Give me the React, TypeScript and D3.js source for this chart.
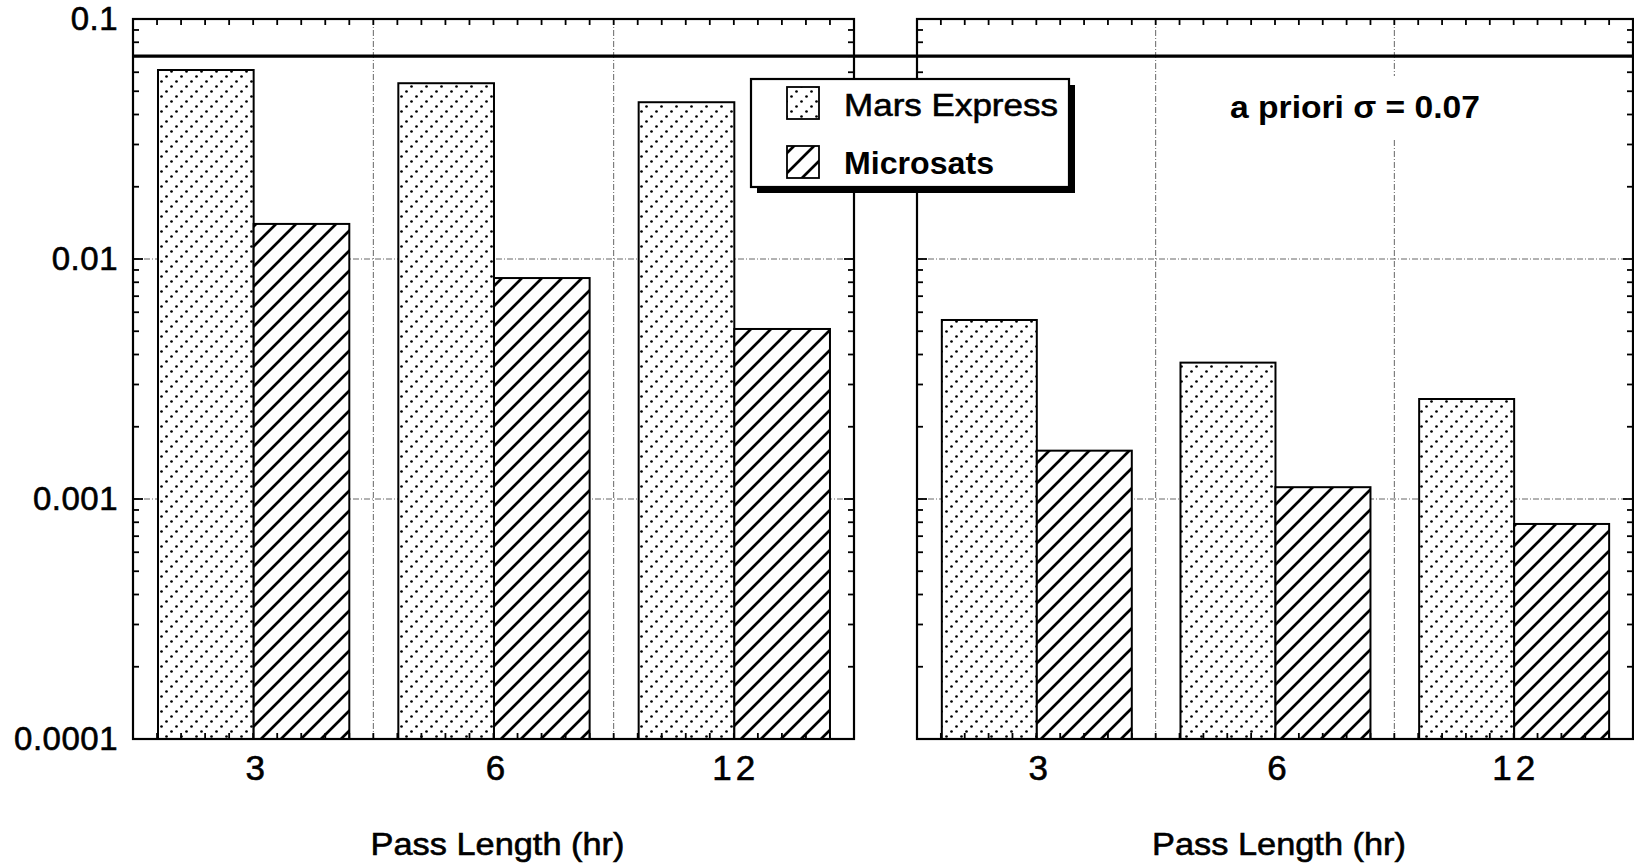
import React from "react";
import * as d3 from "d3";

const CATEGORIES = ["3", "6", "12"];
const SERIES = ["Mars Express", "Microsats"];
const PANEL_A_MARS = [0.0613, 0.054, 0.045];
const PANEL_A_MICRO = [0.014, 0.00833, 0.00511];
const PANEL_B_MARS = [0.00557, 0.0037, 0.00261];
const PANEL_B_MICRO = [0.00159, 0.00112, 0.000787];
const Y_TICKS = [0.1, 0.01, 0.001, 0.0001];
const Y_TICK_LABELS = ["0.1", "0.01", "0.001", "0.0001"];
const APRIORI = 0.07;
const X_TITLE = "Pass Length (hr)";
const ANNOTATION = "a priori σ = 0.07";

const W = 1634;
const H = 868;
const FONT = "'Liberation Sans', Arial, Helvetica, sans-serif";

export default function App() {
  const y = d3.scaleLog().domain([1e-4, 1e-1]).range([739, 19]);
  const panels = [
    { x0: 133, x1: 854, mars: PANEL_A_MARS, micro: PANEL_A_MICRO, labels: true },
    { x0: 917, x1: 1633, mars: PANEL_B_MARS, micro: PANEL_B_MICRO, labels: false },
  ];
  const allTicks = y.ticks();
  const grid = "6,2,1,2";
  const heavy = { stroke: "#000", strokeWidth: 0.6 };

  return (
    <svg
      width={W}
      height={H}
      style={{ position: "absolute", left: 0, top: 0, background: "#fff" }}
      fontFamily={FONT}
    >
      <defs>
        <pattern id="dots" patternUnits="userSpaceOnUse" width={15} height={15}>
          <rect width={15} height={15} fill="#fff" />
          <circle cx={1.5} cy={1.5} r={1.35} fill="#000" />
          <circle cx={11.5} cy={6.5} r={1.35} fill="#000" />
          <circle cx={6.5} cy={11.5} r={1.35} fill="#000" />
        </pattern>
        <pattern id="hatch" patternUnits="userSpaceOnUse" width={20} height={20}>
          <rect width={20} height={20} fill="#fff" />
          <path
            d="M0,20 L20,0 M-10,10 L10,-10 M10,30 L30,10"
            stroke="#000"
            strokeWidth={2.7}
          />
        </pattern>
      </defs>
      <rect width={W} height={H} fill="#fff" />

      {panels.map((p, pi) => {
        const xg = d3.scaleBand().domain(CATEGORIES).range([p.x0, p.x1]);
        const bw = xg.bandwidth();
        const xs = d3
          .scaleBand()
          .domain(SERIES)
          .range([bw * 0.104, bw * 0.9]);
        const minorX = d3.range(0, CATEGORIES.length * 10 + 1).map((i) => p.x0 + (i * bw) / 10);
        return (
          <g key={pi}>
            {Y_TICKS.slice(1, 3).map((t) => (
              <line
                key={"hg" + t}
                x1={p.x0}
                x2={p.x1}
                y1={y(t)}
                y2={y(t)}
                stroke="#666"
                strokeWidth={1}
                strokeDasharray={grid}
              />
            ))}
            {CATEGORIES.slice(1).map((c) => (
              <line
                key={"vg" + c}
                x1={xg(c)}
                x2={xg(c)}
                y1={19}
                y2={739}
                stroke="#666"
                strokeWidth={1}
                strokeDasharray={grid}
              />
            ))}
            {CATEGORIES.map((c, i) => (
              <g key={"b" + c}>
                <rect
                  x={(xg(c) as number) + (xs(SERIES[0]) as number)}
                  y={y(p.mars[i])}
                  width={xs.bandwidth()}
                  height={y(1e-4) - y(p.mars[i])}
                  fill="url(#dots)"
                  stroke="#000"
                  strokeWidth={2}
                />
                <rect
                  x={(xg(c) as number) + (xs(SERIES[1]) as number)}
                  y={y(p.micro[i])}
                  width={xs.bandwidth()}
                  height={y(1e-4) - y(p.micro[i])}
                  fill="url(#hatch)"
                  stroke="#000"
                  strokeWidth={2}
                />
              </g>
            ))}
            <rect
              x={p.x0}
              y={19}
              width={p.x1 - p.x0}
              height={720}
              fill="none"
              stroke="#000"
              strokeWidth={2.2}
            />
            {allTicks.map((t, k) => {
              const major = Math.abs(Math.log10(t) - Math.round(Math.log10(t))) < 1e-9;
              const len = major ? 10 : 6;
              return (
                <g key={"yt" + k}>
                  <line x1={p.x0} x2={p.x0 + len} y1={y(t)} y2={y(t)} stroke="#000" strokeWidth={1.8} />
                  <line x1={p.x1} x2={p.x1 - len} y1={y(t)} y2={y(t)} stroke="#000" strokeWidth={1.8} />
                </g>
              );
            })}
            {minorX.map((xv, k) => (
              <g key={"xt" + k}>
                <line x1={xv} x2={xv} y1={19} y2={25} stroke="#000" strokeWidth={1.8} />
                <line x1={xv} x2={xv} y1={739} y2={733} stroke="#000" strokeWidth={1.8} />
              </g>
            ))}
            {CATEGORIES.map((c) => (
              <text
                key={"cl" + c}
                x={(xg(c) as number) + bw / 2 + 2}
                y={780}
                fontSize={35}
                textAnchor="middle"
                letterSpacing={c.length > 1 ? 4 : 0}
                {...heavy}
              >
                {c}
              </text>
            ))}
            <text
              x={(p.x0 + p.x1) / 2 + 4}
              y={855}
              fontSize={32}
              textAnchor="middle"
              textLength={254}
              lengthAdjust="spacingAndGlyphs"
              {...heavy}
            >
              {X_TITLE}
            </text>
            {p.labels &&
              Y_TICKS.map((t, k) => (
                <text
                  key={"yl" + t}
                  x={118}
                  y={y(t) + 11}
                  fontSize={33}
                  textAnchor="end"
                  letterSpacing={0.5}
                  {...heavy}
                >
                  {Y_TICK_LABELS[k]}
                </text>
              ))}
          </g>
        );
      })}

      <line x1={133} x2={1633} y1={y(APRIORI)} y2={y(APRIORI)} stroke="#000" strokeWidth={3.2} />

      <rect x={757} y={85} width={318} height={108} fill="#000" />
      <rect x={751} y={79} width={318} height={108} fill="#fff" stroke="#000" strokeWidth={2.2} />
      <rect x={787} y={87} width={32} height={32} fill="url(#dots)" stroke="#000" strokeWidth={1.8} />
      <rect x={787} y={146} width={32} height={32} fill="url(#hatch)" stroke="#000" strokeWidth={1.8} />
      <text x={844} y={116} fontSize={32} textLength={214} lengthAdjust="spacingAndGlyphs" {...heavy}>
        {SERIES[0]}
      </text>
      <text x={844} y={174} fontSize={32} fontWeight="bold" textLength={150} lengthAdjust="spacingAndGlyphs">
        {SERIES[1]}
      </text>

      <rect x={1222} y={76} width={266} height={62} fill="#fff" />
      <text x={1230} y={118} fontSize={32} fontWeight="bold" textLength={250} lengthAdjust="spacingAndGlyphs">
        {ANNOTATION}
      </text>
    </svg>
  );
}
